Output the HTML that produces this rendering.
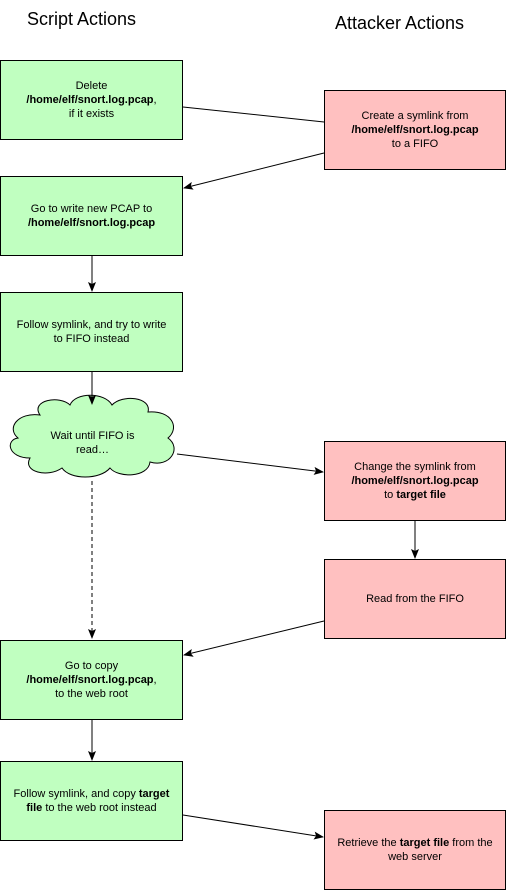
<!DOCTYPE html>
<html><head><style>
body{margin:0;width:507px;height:890px;background:#fff;position:relative;font-family:"Liberation Sans",sans-serif;overflow:hidden}
.b{position:absolute;box-sizing:border-box;border:1px solid #000;display:flex;align-items:center;justify-content:center;text-align:center;font-size:11px;line-height:14px;color:#000;padding:0 1px;white-space:nowrap}
.b>span{display:block}
.g{background:#c0ffc0;left:0;width:183px;height:80px}
.p{background:#ffc0c0;left:324px;width:182px;height:80px}
.t{position:absolute;font-size:18px;white-space:nowrap}
</style></head><body>
<div class="t" style="left:27px;top:9px">Script Actions</div>
<div class="t" style="left:335px;top:13px">Attacker Actions</div>
<svg width="507" height="890" style="position:absolute;left:0;top:0">
<defs><marker id="a" markerWidth="10" markerHeight="8" refX="9" refY="4" orient="auto" markerUnits="userSpaceOnUse"><path d="M0,0 L10,4 L0,8 L2,4 Z" fill="#000"/></marker></defs>
<path d="M40,415 C30,400 60,395 70,405 C75,392 105,392 112,405 C122,394 152,397 148,412 C172,410 180,428 168,438 C182,448 170,468 150,462 C148,478 118,478 110,468 C100,480 70,480 62,468 C48,478 22,472 30,458 C8,458 5,440 18,438 C6,428 18,412 40,415 Z" fill="#c0ffc0" stroke="#000" stroke-width="1"/>
<g stroke="#000" stroke-width="1" fill="none">
<line x1="183" y1="107" x2="324" y2="122"/>
<line x1="324" y1="153" x2="184" y2="188" marker-end="url(#a)"/>
<line x1="92" y1="256" x2="92" y2="291" marker-end="url(#a)"/>
<line x1="92" y1="372" x2="92" y2="404" marker-end="url(#a)"/>
<line x1="177" y1="454" x2="323" y2="472" marker-end="url(#a)"/>
<line x1="415" y1="521" x2="415" y2="558" marker-end="url(#a)"/>
<line x1="324" y1="621" x2="184" y2="655" marker-end="url(#a)"/>
<line x1="92" y1="481" x2="92" y2="638" stroke-dasharray="4,3" marker-end="url(#a)"/>
<line x1="92" y1="720" x2="92" y2="760" marker-end="url(#a)"/>
<line x1="183" y1="815" x2="323" y2="837" marker-end="url(#a)"/>
</g>
</svg>
<div class="t" style="left:45px;top:429px;font-size:11px;line-height:14px;text-align:center;width:95px;white-space:normal">Wait until FIFO is read…</div>
<div class="b g" style="top:60px"><span>Delete<br><b>/home/elf/snort.log.pcap</b>,<br>if it exists</span></div>
<div class="b p" style="top:90px"><span>Create a symlink from<br><b>/home/elf/snort.log.pcap</b><br>to a FIFO</span></div>
<div class="b g" style="top:176px"><span>Go to write new PCAP to<br><b>/home/elf/snort.log.pcap</b></span></div>
<div class="b g" style="top:292px"><span>Follow symlink, and try to write<br>to FIFO instead</span></div>
<div class="b p" style="top:441px"><span>Change the symlink from<br><b>/home/elf/snort.log.pcap</b><br>to <b>target file</b></span></div>
<div class="b p" style="top:559px"><span>Read from the FIFO</span></div>
<div class="b g" style="top:640px"><span>Go to copy<br><b>/home/elf/snort.log.pcap</b>,<br>to the web root</span></div>
<div class="b g" style="top:761px"><span>Follow symlink, and copy <b>target</b><br><b>file</b> to the web root instead</span></div>
<div class="b p" style="top:810px"><span>Retrieve the <b>target file</b> from the<br>web server</span></div>
</body></html>
